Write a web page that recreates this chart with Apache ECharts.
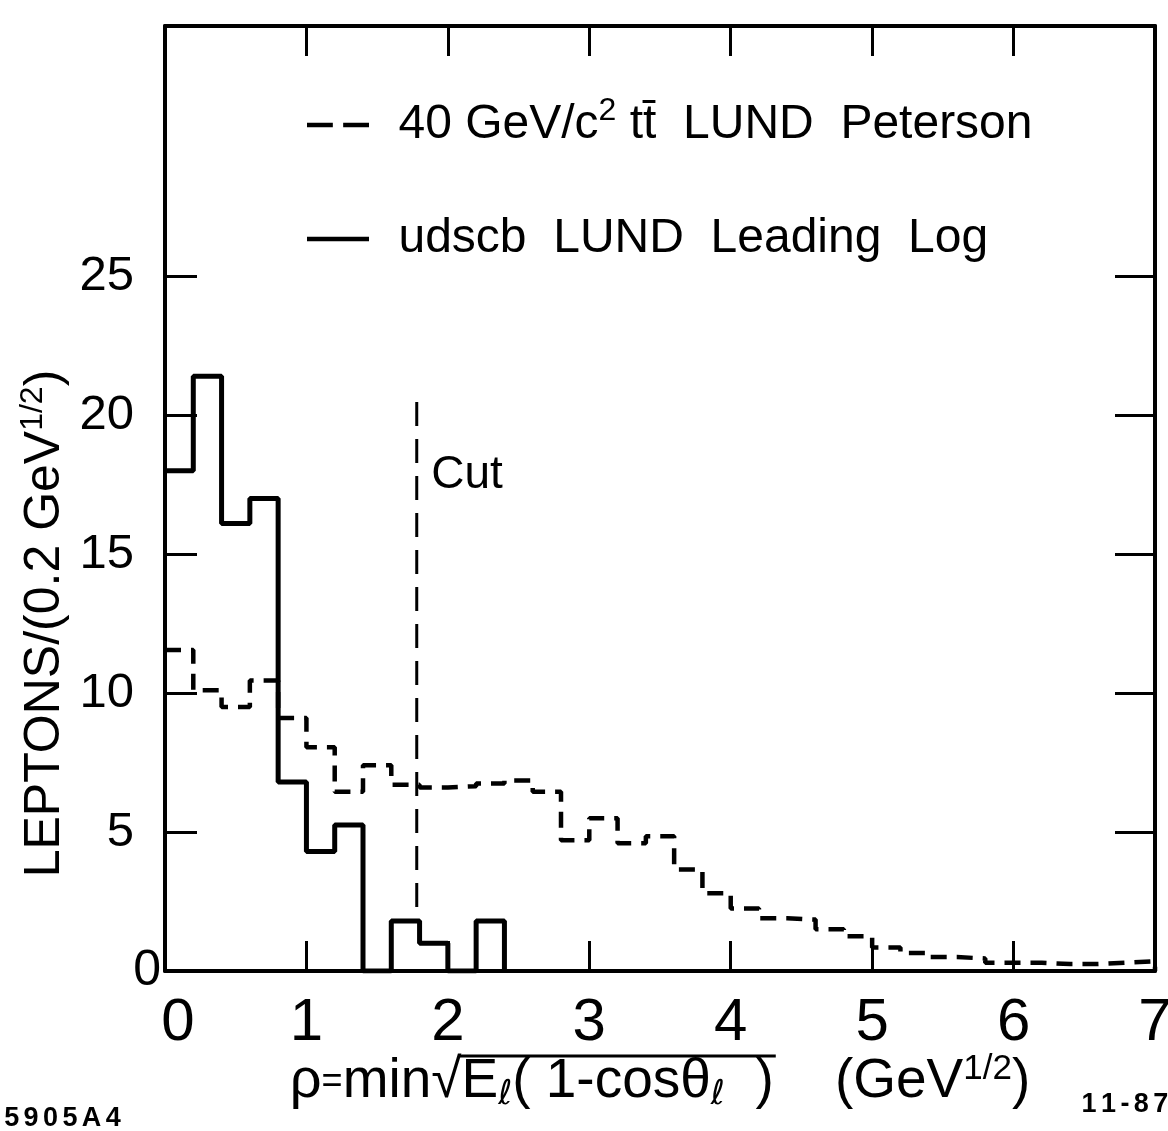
<!DOCTYPE html>
<html><head><meta charset="utf-8">
<script src="https://cdn.jsdelivr.net/npm/echarts@6/dist/echarts.min.js"></script>
<style>html,body{margin:0;padding:0;background:#fff}#c{width:1168px;height:1131px}</style>
</head><body><div id="c"></div>
<script>
// ---- data ----
const binWidth = 0.2;
const solidValues = [18.0, 21.4, 16.1, 17.0, 6.8, 4.3, 5.25, 0, 1.8, 1.0, 0, 1.8];
const dashedValues = [11.55, 10.1, 9.5, 10.45, 9.1, 8.05, 6.45, 7.4, 6.7, 6.6, 6.65, 6.75,
  6.85, 6.45, 4.7, 5.5, 4.6, 4.85, 3.65, 2.8, 2.25, 1.9, 1.85, 1.5, 1.25, 0.85, 0.65,
  0.5, 0.45, 0.3, 0.3, 0.25, 0.25, 0.3, 0.35];
const cutX = 1.78;
const cutRange = [2.3, 20.9];
const cutLabelY = 17.85;
const xTickLabels = [0, 1, 2, 3, 4, 5, 6, 7];
const xTicks = [1, 2, 3, 4, 5, 6];
const yTickLabels = [0, 5, 10, 15, 20, 25];
const yTicks = [5, 10, 15, 20, 25];
const seriesNames = ['40 GeV/c2 tt LUND Peterson', 'udscb LUND Leading Log'];

function histPoints(vals) {
  const pts = vals.map((v, i) => [+(i * binWidth).toFixed(2), v]);
  const end = +(vals.length * binWidth).toFixed(2);
  pts.push([end, vals[vals.length - 1]]);
  pts.push([end, 0]);
  return pts;
}

const FONT = "'Liberation Sans', Arial, sans-serif";
const DJV = "'DejaVu Sans', sans-serif";
const chart = echarts.init(document.getElementById('c'), null, {renderer: 'canvas'});
const axisLine = {show: true, onZero: false, lineStyle: {color: '#000', width: 4}};

// x-axis title tokens (style, text)
const xNameTokens = [
  ['r', '\u03C1'], ['eq', '='], ['t', 'min'], ['t', '\u221A'], ['t', 'E'], ['s', '\u2113'],
  ['t', '( 1-cos'], ['t', '\u03B8'], ['s', '\u2113'], ['t', '  )'], ['t', '    (GeV'], ['sup', '1/2'], ['t', ')']
];
const xNameRich = {
  r: {fontSize: 56, fontFamily: FONT, color: '#000'},
  eq: {fontSize: 36, fontFamily: FONT, color: '#000'},
  t: {fontSize: 55, fontFamily: FONT, color: '#000', lineHeight: 60},
  s: {fontSize: 34, fontFamily: DJV, color: '#000', verticalAlign: 'bottom', lineHeight: 44},
  sup: {fontSize: 35, fontFamily: FONT, color: '#000', verticalAlign: 'top', lineHeight: 37}
};
const xNameGap = 81;

const footRich = {a: {fontSize: 27, fontWeight: 'bold', fontFamily: FONT, color: '#000', padding: [0, 2.2, 0, 2.2]}};
const toRich = s => s.split('').map(c => '{a|' + c + '}').join('');

chart.setOption({
  animation: false,
  backgroundColor: '#fff',
  textStyle: {fontFamily: FONT, color: '#000'},
  grid: {left: 165, right: 13, top: 26, bottom: 160, containLabel: false, outerBoundsMode: 'none'},
  title: [
    {text: toRich('5905A4'), left: -3, top: 1100, textStyle: {rich: footRich}},
    {text: toRich('11-87'), right: -3, top: 1086, textStyle: {rich: footRich}}
  ],
  legend: {
    orient: 'vertical', left: 302, top: 90, itemWidth: 62, itemHeight: 20, itemGap: 66,
    data: [
      {name: seriesNames[0], icon: 'path://M0,0h25v4.5h-25z M35,0h25v4.5h-25z'},
      {name: seriesNames[1], icon: 'path://M0,0h60v4.5h-60z'}
    ],
    formatter: name => name === seriesNames[0]
      ? '{sp|  }{t|40 GeV/c}{sup|2}{t| t}{t|t\u0304}{t|  LUND  Peterson}'
      : '{sp|  }{t|udscb  LUND  Leading  Log}',
    textStyle: {
      fontFamily: FONT, color: '#000',
      rich: {
        sp: {fontSize: 44, fontFamily: FONT},
        t: {fontSize: 48, fontFamily: FONT, color: '#000', lineHeight: 60},
        sup: {fontSize: 32, fontFamily: FONT, color: '#000', verticalAlign: 'top', lineHeight: 34}
      }
    }
  },
  xAxis: [
    {
      type: 'value', min: 0, max: 7, interval: 1, position: 'bottom',
      axisLine: axisLine,
      axisTick: {show: true, inside: true, length: 30, customValues: xTicks, lineStyle: {color: '#000', width: 3}},
      axisLabel: {
        show: true, customValues: xTickLabels, margin: 22, fontSize: 60, fontFamily: FONT, color: '#000',
        formatter: v => v === 0 ? '{z|0}' : String(v),
        rich: {z: {fontSize: 60, fontFamily: FONT, color: '#000', padding: [0, 0, 0, 26]}}
      },
      splitLine: {show: false},
      name: xNameTokens.map(t => '{' + t[0] + '|' + t[1] + '}').join(''),
      nameLocation: 'middle', nameGap: xNameGap, nameMoveOverlap: false,
      nameTextStyle: {rich: xNameRich}
    },
    {
      type: 'value', min: 0, max: 7, interval: 1, position: 'top',
      axisLine: axisLine,
      axisTick: {show: true, inside: true, length: 30, customValues: xTicks, lineStyle: {color: '#000', width: 3}},
      axisLabel: {show: false},
      splitLine: {show: false}
    }
  ],
  yAxis: [
    {
      type: 'value', min: 0, max: 34, interval: 5, position: 'left',
      axisLine: axisLine,
      axisTick: {show: true, inside: true, length: 32, customValues: yTicks, lineStyle: {color: '#000', width: 3}},
      axisLabel: {
        show: true, customValues: yTickLabels, margin: 31, fontSize: 49, fontFamily: FONT, color: '#000',
        formatter: v => v === 0 ? '{z|0}' : String(v),
        rich: {z: {fontSize: 50, fontFamily: FONT, color: '#000', padding: [0, -27, 0, 0]}}
      },
      splitLine: {show: false},
      name: '{t|LEPTONS/(0.2 GeV}{sup|1/2}{t|)}',
      nameLocation: 'middle', nameRotate: 90, nameGap: 92, nameMoveOverlap: false,
      nameTextStyle: {
        padding: [0, 250, 0, 0],
        rich: {
          t: {fontSize: 50, fontFamily: FONT, color: '#000', lineHeight: 56},
          sup: {fontSize: 32, fontFamily: FONT, color: '#000', verticalAlign: 'top', lineHeight: 32}
        }
      }
    },
    {
      type: 'value', min: 0, max: 34, interval: 5, position: 'right',
      axisLine: axisLine,
      axisTick: {show: true, inside: true, length: 40, customValues: yTicks, lineStyle: {color: '#000', width: 3}},
      axisLabel: {show: false},
      splitLine: {show: false}
    }
  ],
  series: [
    {
      name: seriesNames[0], type: 'line', step: 'end', symbol: 'none',
      xAxisIndex: 0, yAxisIndex: 0,
      data: histPoints(dashedValues),
      lineStyle: {color: '#000', width: 4.5, type: [16, 10]},
      itemStyle: {color: '#000'}
    },
    {
      name: seriesNames[1], type: 'line', step: 'end', symbol: 'none',
      xAxisIndex: 0, yAxisIndex: 0,
      data: histPoints(solidValues),
      lineStyle: {color: '#000', width: 5},
      itemStyle: {color: '#000'}
    },
    {
      name: 'Cut', type: 'line', symbol: 'none',
      xAxisIndex: 0, yAxisIndex: 0,
      data: [[cutX, cutRange[0]], [cutX, cutRange[1]]],
      lineStyle: {color: '#000', width: 3, type: [24, 13]},
      markPoint: {
        symbol: 'circle', symbolSize: 1, itemStyle: {color: 'rgba(0,0,0,0)'},
        data: [{coord: [cutX, cutLabelY], value: 'Cut'}],
        label: {show: true, position: 'right', distance: 14, formatter: 'Cut', fontSize: 46, fontFamily: FONT, color: '#000'}
      }
    }
  ]
});

// overline of the square root in the x-axis title, placed from measured text widths
(function () {
  const ctx = document.createElement('canvas').getContext('2d');
  const width = t => {
    const st = xNameRich[t[0]];
    ctx.font = 'normal ' + st.fontSize + 'px ' + st.fontFamily;
    return ctx.measureText(t[1]).width;
  };
  const widths = xNameTokens.map(width);
  const total = widths.reduce((a, b) => a + b, 0);
  const cx = chart.convertToPixel({xAxisIndex: 0}, 3.5);
  const axisY = chart.convertToPixel({yAxisIndex: 0}, 0);
  let x = cx - total / 2;
  const xs = [];
  widths.forEach(w => { xs.push(x); x += w; });
  const x1 = xs[4] - 2;             // after the radical sign
  const x2 = xs[9] + widths[9] + 2;  // after the closing parenthesis
  const y = axisY + xNameGap + 4;
  chart.setOption({
    graphic: [{type: 'line', shape: {x1: x1, y1: y, x2: x2, y2: y}, style: {stroke: '#000', lineWidth: 3}}]
  });
})();
</script>
</body></html>
